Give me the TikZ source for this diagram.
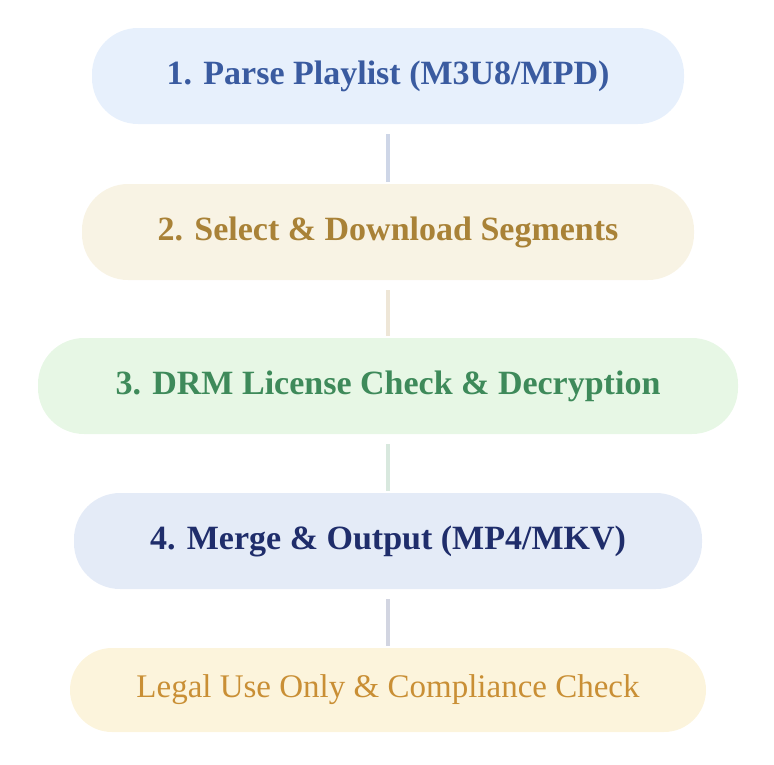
\documentclass[tikz,border=0pt]{standalone}
\usepackage{fontspec}
\setmainfont{Liberation Serif}
\begin{document}
\begin{tikzpicture}[x=1pt,y=-1pt,
 stepbox/.style={rounded corners=46pt,draw=none,inner sep=0pt,font=\fontsize{34}{38}\selectfont\bfseries},
 conn/.style={line width=4pt}]
\useasboundingbox (0,0) rectangle (774,764);
\definecolor{f1}{HTML}{E7F0FC}\definecolor{t1}{HTML}{3A5BA0}
\definecolor{f2}{HTML}{F8F3E4}\definecolor{t2}{HTML}{A98237}
\definecolor{f3}{HTML}{E7F7E5}\definecolor{t3}{HTML}{3E8A5A}
\definecolor{f4}{HTML}{E4EBF7}\definecolor{t4}{HTML}{1F2D6B}
\definecolor{f5}{HTML}{FCF4DC}\definecolor{t5}{HTML}{C98F35}
\node[stepbox,fill=f1,text=t1,minimum width=592pt,minimum height=96pt] (a) at (388,76) {1. Parse Playlist (M3U8/MPD)};
\node[stepbox,fill=f2,text=t2,minimum width=612pt,minimum height=96pt] (b) at (388,232) {2. Select \& Download Segments};
\node[stepbox,fill=f3,text=t3,minimum width=700pt,minimum height=96pt] (c) at (388,386) {3. DRM License Check \& Decryption};
\node[stepbox,fill=f4,text=t4,minimum width=628pt,minimum height=96pt] (d) at (388,541) {4. Merge \& Output (MP4/MKV)};
\node[stepbox,rounded corners=42pt,fill=f5,text=t5,font=\fontsize{33}{37}\selectfont,minimum width=636pt,minimum height=84pt] (e) at (388,690) {Legal Use Only \& Compliance Check};
\draw[conn,draw=t1!25] ([yshift=-10pt]a.south) -- ([yshift=2pt]b.north);
\draw[conn,draw=t2!20] ([yshift=-10pt]b.south) -- ([yshift=2pt]c.north);
\draw[conn,draw=t3!20] ([yshift=-10pt]c.south) -- ([yshift=2pt]d.north);
\draw[conn,draw=t4!20] ([yshift=-10pt]d.south) -- ([yshift=2pt]e.north);
\end{tikzpicture}
\end{document}
